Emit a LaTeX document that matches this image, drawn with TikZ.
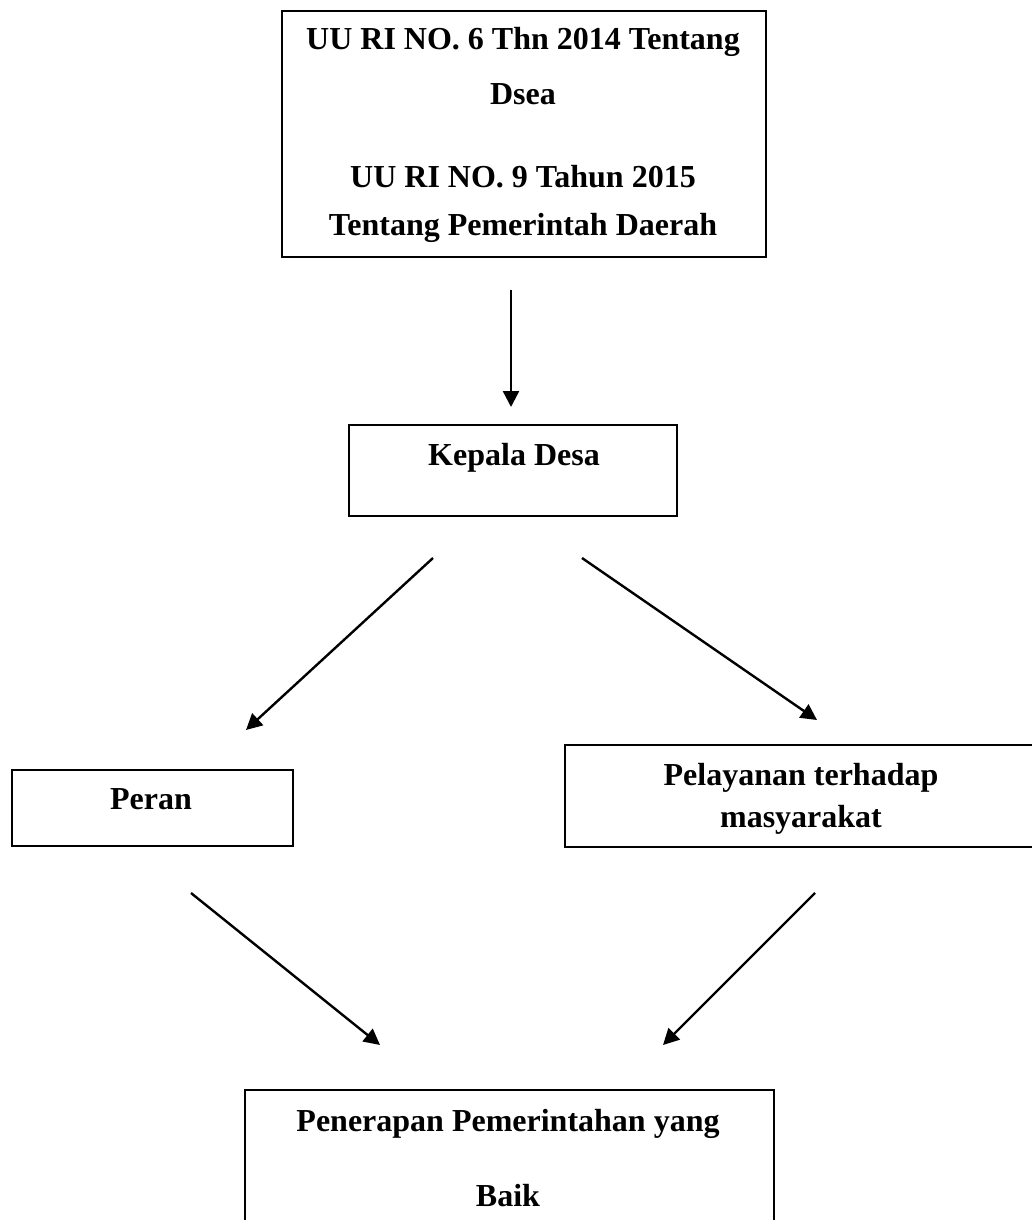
\documentclass[tikz,border=0pt]{standalone}
\usepackage{fontspec}
\setmainfont{Liberation Serif}
\usetikzlibrary{arrows.meta}
\begin{document}
\begin{tikzpicture}[x=1pt,y=-1pt,
  box/.style={draw,line width=1.9pt,inner sep=0pt,anchor=north west},
  lbl/.style={font=\fontsize{32}{38}\selectfont\bfseries,anchor=base,inner sep=0pt},
  arr/.style={line width=2.4pt,-{Triangle[length=16pt,width=16pt]}}]
\useasboundingbox (0,0) rectangle (1031,1220);
\fill[white] (0,0) rectangle (1031,1220);
% boxes
\node[box,minimum width=484pt,minimum height=246pt] (law) at (281,10) {};
\node[box,minimum width=328pt,minimum height=91pt] (kd) at (348,424) {};
\node[box,minimum width=281pt,minimum height=76pt] (peran) at (11,769) {};
\node[box,minimum width=476pt,minimum height=102pt] (pel) at (564,744) {};
\node[box,minimum width=529pt,minimum height=160pt] (pen) at (244,1089) {};
% texts
\node[lbl] (t1) at (523,50) {UU RI NO. 6 Thn 2014 Tentang};
\node[lbl] (t2) at (523,105) {Dsea};
\node[lbl] (t3) at (523,187) {UU RI NO. 9 Tahun 2015};
\begin{scope}
\clip (282,11) rectangle (764,243);
\node[lbl] (t4) at (523,235) {Tentang Pemerintah Daerah};
\end{scope}
\node[lbl] (tkd) at (514,465) {Kepala Desa};
\node[lbl] (tper) at (151,809) {Peran};
\node[lbl] (tpel1) at (801,785) {Pelayanan terhadap};
\node[lbl] (tpel2) at (801,827) {masyarakat};
\node[lbl] (tpen1) at (508,1131) {Penerapan Pemerintahan yang};
\node[lbl] (tpen2) at (508,1206) {Baik};
% connector ends
\coordinate (a1s) at (511,290);
\coordinate (a1e) at (511,407);
\coordinate (a2s) at (433,558);
\coordinate (a2e) at (246,730);
\coordinate (a3s) at (582,558);
\coordinate (a3e) at (817,720);
\coordinate (a4s) at (191,893);
\coordinate (a4e) at (380,1045);
\coordinate (a5s) at (815,893);
\coordinate (a5e) at (663,1045);
\draw[arr] (a1s) -- (a1e);
\draw[arr] (a2s) -- (a2e);
\draw[arr] (a3s) -- (a3e);
\draw[arr] (a4s) -- (a4e);
\draw[arr] (a5s) -- (a5e);
\end{tikzpicture}
\end{document}
